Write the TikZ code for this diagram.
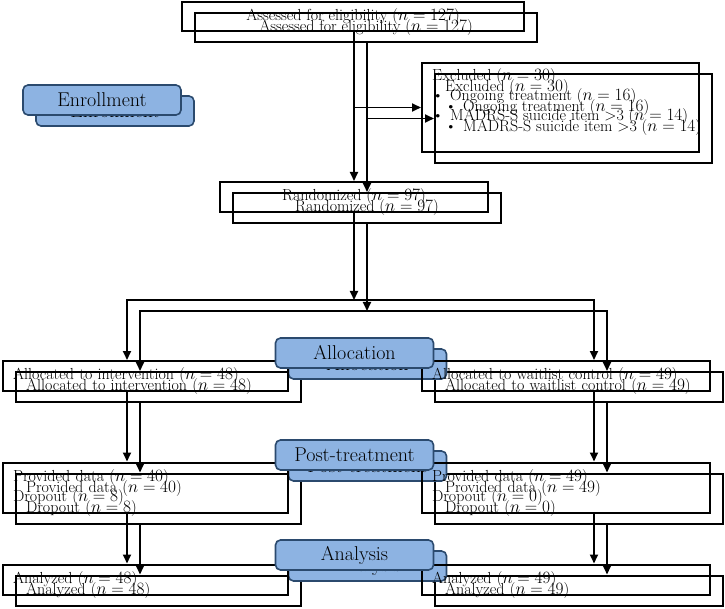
\documentclass[tikz,border=0pt]{standalone}
\usepackage{fontspec}
\usetikzlibrary{arrows.meta}
\definecolor{labfill}{HTML}{8DB3E2}
\definecolor{labdraw}{HTML}{2B4A6E}
\tikzset{
  box/.style={draw=black, line width=2pt, inner sep=0pt, font=\fontsize{16}{19.5}\selectfont},
  lbox/.style={box, align=left, inner xsep=10pt, inner ysep=0pt},
  txt/.style={inner sep=0pt, anchor=west, font=\fontsize{16}{19.5}\selectfont},
  arr/.style={line width=1.8pt, -{Triangle[length=9pt,width=8pt]}},
  lab/.style={draw=labdraw, fill=labfill, line width=1.6pt, rounded corners=5pt,
    minimum width=158pt, minimum height=30pt, inner sep=0pt, font=\fontsize{20}{22}\selectfont}
}
\newcommand\flowcopy[1]{%
  \node[box, minimum width=342pt, minimum height=29pt] (assess#1) at (353,16.5) {Assessed for eligibility ($n=127$)};
  \node[box, minimum width=277pt, minimum height=89pt] (excl#1) at (560.5,107.5) {};
  \node[txt] (exh#1) at (432,77) {Excluded ($n=30$)};
  \node[txt] (exa#1) at (432,97) {\makebox[18pt][l]{\textbullet}Ongoing treatment ($n=16$)};
  \node[txt] (exb#1) at (432,117) {\makebox[18pt][l]{\textbullet}MADRS-S suicide item >3 ($n=14$)};
  \node[box, minimum width=268pt, minimum height=30pt] (rand#1) at (354,197) {Randomized ($n=97$)};
  \node[lbox, text width=265pt, minimum height=30pt] (allocL#1) at (145.5,376) {Allocated to intervention ($n=48$)};
  \node[lbox, text width=268pt, minimum height=30pt] (allocR#1) at (566,376) {Allocated to waitlist control ($n=49$)};
  \node[lbox, text width=265pt, minimum height=50pt] (postL#1) at (145.5,487.5) {Provided data ($n=40$)\\Dropout ($n=8$)};
  \node[lbox, text width=268pt, minimum height=50pt] (postR#1) at (566,487.5) {Provided data ($n=49$)\\Dropout ($n=0$)};
  \node[lbox, text width=265pt, minimum height=30pt] (anaL#1) at (145.5,579.5) {Analyzed ($n=48$)};
  \node[lbox, text width=268pt, minimum height=30pt] (anaR#1) at (566,579.5) {Analyzed ($n=49$)};
  \coordinate (split#1) at (354,300);
  \coordinate (colL#1) at (127,300);
  \coordinate (colR#1) at (594,300);
  \draw[arr] (rand#1.north |- assess#1.south) -- (rand#1.north);
  \draw[arr] (rand#1.north |- excl#1.west) -- (excl#1.west);
  \draw[arr] (rand#1.south) -- (split#1);
  \draw[arr] (split#1) -- (colL#1) -- (colL#1 |- allocL#1.north);
  \draw[arr] (split#1) -- (colR#1) -- (colR#1 |- allocR#1.north);
  \draw[arr] (colL#1 |- allocL#1.south) -- (colL#1 |- postL#1.north);
  \draw[arr] (colR#1 |- allocR#1.south) -- (colR#1 |- postR#1.north);
  \draw[arr] (colL#1 |- postL#1.south) -- (colL#1 |- anaL#1.north);
  \draw[arr] (colR#1 |- postR#1.south) -- (colR#1 |- anaR#1.north);
  \node[lab] (labEnr#1) at (102,100) {Enrollment};
  \node[lab] (labAll#1) at (354.5,353) {Allocation};
  \node[lab] (labPost#1) at (354.5,455) {Post-treatment};
  \node[lab] (labAna#1) at (354.5,555) {Analysis};
}
\begin{document}
\begin{tikzpicture}[x=1pt,y=-1pt]
  \useasboundingbox (0,0) rectangle (725,609);
  \begin{scope}[xshift=13pt, yshift=-11pt]
    \flowcopy{B}
  \end{scope}
  \flowcopy{A}
\end{tikzpicture}
\end{document}
